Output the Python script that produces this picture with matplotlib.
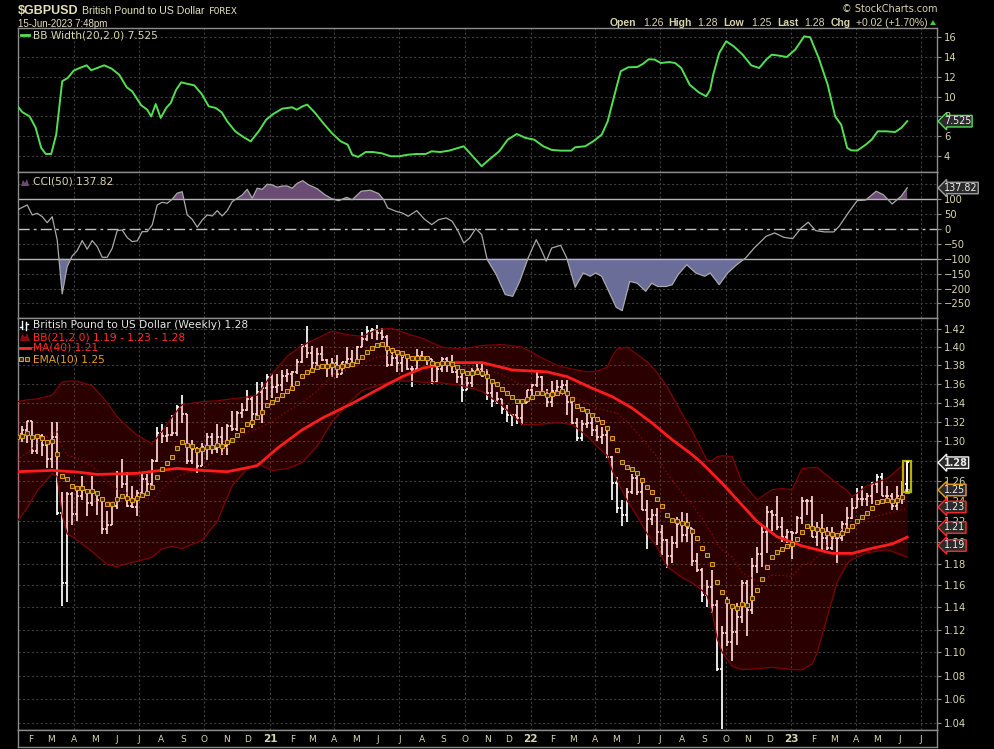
import numpy as np
import matplotlib
matplotlib.use("Agg")
import matplotlib.pyplot as plt
from matplotlib.ticker import FixedLocator, NullLocator, FixedFormatter
from matplotlib.patches import Rectangle, Polygon
from matplotlib.lines import Line2D

# ---------------- data ----------------
start_date = "2020-01-06"   # Monday of the first weekly bar

opn = [1.3115, 1.3062, 1.3072, 1.3110, 1.3204, 1.2900, 1.3047, 1.2961, 1.2821, 1.3046,
       1.2279, 1.1620, 1.2463, 1.2269, 1.2450, 1.2502, 1.2374, 1.2490, 1.2404, 1.2130,
       1.2166, 1.2350, 1.2665, 1.2562, 1.2351, 1.2335, 1.2479, 1.2617, 1.2565, 1.2796,
       1.3083, 1.3056, 1.3058, 1.3087, 1.3353, 1.3276, 1.2797, 1.2913, 1.2750, 1.2943,
       1.3043, 1.2915, 1.3043, 1.2947, 1.3153, 1.3128, 1.3288, 1.3324, 1.3440, 1.3282,
       1.3511, 1.3557, 1.3670, 1.3565, 1.3589, 1.3685, 1.3703, 1.3727, 1.3840, 1.4010,
       1.3933, 1.3830, 1.3925, 1.3864, 1.3789, 1.3826, 1.3706, 1.3840, 1.3871, 1.3826,
       1.3998, 1.4092, 1.4183, 1.4193, 1.4159, 1.4113, 1.3802, 1.3881, 1.3830, 1.3891,
       1.3759, 1.3764, 1.3903, 1.3866, 1.3867, 1.3620, 1.3759, 1.3866, 1.3839, 1.3734,
       1.3677, 1.3530, 1.3612, 1.3744, 1.3760, 1.3681, 1.3500, 1.3413, 1.3442, 1.3336,
       1.3271, 1.3268, 1.3237, 1.3398, 1.3532, 1.3590, 1.3680, 1.3496, 1.3404, 1.3528,
       1.3563, 1.3592, 1.3412, 1.3185, 1.3033, 1.3180, 1.3183, 1.3112, 1.3037, 1.3060,
       1.2835, 1.2573, 1.2334, 1.2262, 1.2490, 1.2622, 1.2489, 1.2313, 1.2221, 1.2266,
       1.2093, 1.2026, 1.1873, 1.1990, 1.2177, 1.2072, 1.2138, 1.1828, 1.1735, 1.1508,
       1.1583, 1.1418, 1.0856, 1.1170, 1.1090, 1.1175, 1.1310, 1.1616, 1.1378, 1.1776,
       1.1892, 1.2093, 1.2286, 1.2257, 1.2146, 1.2052, 1.2097, 1.2086, 1.2228, 1.2396,
       1.2395, 1.2053, 1.2117, 1.2040, 1.1945, 1.2038, 1.2039, 1.2178, 1.2232, 1.2332,
       1.2417, 1.2413, 1.2443, 1.2567, 1.2632, 1.2451, 1.2444, 1.2347, 1.2451, 1.2567]
high = [1.3214, 1.3118, 1.3153, 1.3207, 1.3211, 1.3070, 1.3070, 1.3005, 1.3200, 1.3200,
        1.2485, 1.2487, 1.2486, 1.2546, 1.2648, 1.2517, 1.2644, 1.2497, 1.2414, 1.2296,
        1.2375, 1.2700, 1.2813, 1.2688, 1.2543, 1.2503, 1.2669, 1.2669, 1.2814, 1.3144,
        1.3171, 1.3143, 1.3267, 1.3374, 1.3482, 1.3283, 1.3007, 1.2935, 1.2982, 1.3083,
        1.3082, 1.3177, 1.3140, 1.3177, 1.3313, 1.3309, 1.3399, 1.3540, 1.3470, 1.3623,
        1.3625, 1.3704, 1.3703, 1.3711, 1.3746, 1.3759, 1.3739, 1.3866, 1.4035, 1.4241,
        1.4017, 1.3990, 1.4017, 1.3873, 1.3887, 1.3919, 1.3841, 1.4008, 1.3969, 1.4009,
        1.4166, 1.4234, 1.4219, 1.4249, 1.4220, 1.4133, 1.3977, 1.3941, 1.3909, 1.3910,
        1.3790, 1.3984, 1.3958, 1.3894, 1.3875, 1.3787, 1.3892, 1.3891, 1.3913, 1.3750,
        1.3718, 1.3674, 1.3773, 1.3834, 1.3826, 1.3764, 1.3608, 1.3514, 1.3444, 1.3374,
        1.3283, 1.3374, 1.3441, 1.3540, 1.3600, 1.3749, 1.3686, 1.3546, 1.3628, 1.3644,
        1.3643, 1.3643, 1.3438, 1.3238, 1.3213, 1.3298, 1.3279, 1.3164, 1.3148, 1.3145,
        1.2843, 1.2638, 1.2406, 1.2525, 1.2666, 1.2666, 1.2599, 1.2406, 1.2324, 1.2332,
        1.2165, 1.2027, 1.2064, 1.2245, 1.2293, 1.2276, 1.2140, 1.1900, 1.1760, 1.1650,
        1.1738, 1.1467, 1.1235, 1.1496, 1.1380, 1.1438, 1.1645, 1.1645, 1.1855, 1.1955,
        1.2154, 1.2345, 1.2311, 1.2446, 1.2242, 1.2124, 1.2110, 1.2247, 1.2435, 1.2418,
        1.2448, 1.2194, 1.2270, 1.2147, 1.2144, 1.2064, 1.2204, 1.2343, 1.2424, 1.2525,
        1.2546, 1.2474, 1.2585, 1.2668, 1.2680, 1.2547, 1.2472, 1.2546, 1.2599, 1.2800]
low = [1.3012, 1.2953, 1.2994, 1.2975, 1.2872, 1.2870, 1.2849, 1.2726, 1.2725, 1.2261,
       1.1409, 1.1450, 1.2165, 1.2201, 1.2410, 1.2247, 1.2350, 1.2266, 1.2075, 1.2076,
       1.2163, 1.2320, 1.2528, 1.2335, 1.2325, 1.2252, 1.2462, 1.2480, 1.2522, 1.2786,
       1.2981, 1.2993, 1.3056, 1.3051, 1.3183, 1.2762, 1.2765, 1.2676, 1.2750, 1.2805,
       1.2863, 1.2875, 1.2855, 1.2854, 1.3105, 1.3108, 1.3237, 1.3313, 1.3134, 1.3226,
       1.3188, 1.3432, 1.3451, 1.3500, 1.3521, 1.3625, 1.3566, 1.3710, 1.3827, 1.3884,
       1.3777, 1.3778, 1.3848, 1.3671, 1.3671, 1.3669, 1.3706, 1.3802, 1.3800, 1.3823,
       1.3998, 1.4074, 1.4092, 1.4083, 1.4084, 1.3786, 1.3792, 1.3732, 1.3730, 1.3749,
       1.3572, 1.3760, 1.3854, 1.3800, 1.3602, 1.3620, 1.3727, 1.3727, 1.3719, 1.3609,
       1.3412, 1.3530, 1.3571, 1.3740, 1.3670, 1.3424, 1.3353, 1.3388, 1.3279, 1.3194,
       1.3160, 1.3174, 1.3161, 1.3397, 1.3431, 1.3566, 1.3490, 1.3358, 1.3358, 1.3487,
       1.3485, 1.3273, 1.3161, 1.3000, 1.3003, 1.3138, 1.3050, 1.3001, 1.2973, 1.2823,
       1.2411, 1.2276, 1.2155, 1.2198, 1.2470, 1.2459, 1.2311, 1.1934, 1.2161, 1.1976,
       1.1876, 1.1760, 1.1806, 1.1944, 1.2004, 1.2006, 1.1780, 1.1717, 1.1444, 1.1405,
       1.1351, 1.0839, 1.0350, 1.1057, 1.0924, 1.1062, 1.1255, 1.1147, 1.1335, 1.1710,
       1.1763, 1.1900, 1.2107, 1.2115, 1.2004, 1.1992, 1.1841, 1.2086, 1.2170, 1.2263,
       1.2047, 1.1962, 1.1915, 1.1922, 1.1924, 1.1803, 1.2010, 1.2133, 1.2219, 1.2332,
       1.2345, 1.2349, 1.2368, 1.2480, 1.2450, 1.2392, 1.2308, 1.2308, 1.2368, 1.2490]
close = [1.3062, 1.3072, 1.3110, 1.3204, 1.2900, 1.3047, 1.2961, 1.2821, 1.3046, 1.2279,
         1.1620, 1.2463, 1.2269, 1.2450, 1.2502, 1.2374, 1.2490, 1.2404, 1.2130, 1.2166,
         1.2350, 1.2665, 1.2562, 1.2351, 1.2335, 1.2479, 1.2617, 1.2565, 1.2796, 1.3083,
         1.3056, 1.3058, 1.3087, 1.3353, 1.3276, 1.2797, 1.2913, 1.2750, 1.2943, 1.3043,
         1.2915, 1.3043, 1.2947, 1.3153, 1.3128, 1.3288, 1.3324, 1.3440, 1.3282, 1.3511,
         1.3557, 1.3670, 1.3565, 1.3589, 1.3685, 1.3703, 1.3727, 1.3840, 1.4010, 1.3933,
         1.3830, 1.3925, 1.3864, 1.3789, 1.3826, 1.3706, 1.3840, 1.3871, 1.3826, 1.3998,
         1.4092, 1.4183, 1.4193, 1.4159, 1.4113, 1.3802, 1.3881, 1.3830, 1.3891, 1.3759,
         1.3764, 1.3903, 1.3866, 1.3867, 1.3620, 1.3759, 1.3866, 1.3839, 1.3734, 1.3677,
         1.3530, 1.3612, 1.3744, 1.3760, 1.3681, 1.3500, 1.3413, 1.3442, 1.3336, 1.3271,
         1.3268, 1.3237, 1.3398, 1.3532, 1.3590, 1.3680, 1.3496, 1.3404, 1.3528, 1.3563,
         1.3592, 1.3412, 1.3185, 1.3033, 1.3180, 1.3183, 1.3112, 1.3037, 1.3060, 1.2835,
         1.2573, 1.2334, 1.2262, 1.2490, 1.2622, 1.2489, 1.2313, 1.2221, 1.2266, 1.2093,
         1.2026, 1.1873, 1.1990, 1.2177, 1.2072, 1.2138, 1.1828, 1.1735, 1.1508, 1.1583,
         1.1418, 1.0856, 1.1170, 1.1090, 1.1175, 1.1310, 1.1616, 1.1378, 1.1776, 1.1892,
         1.2093, 1.2286, 1.2257, 1.2146, 1.2052, 1.2097, 1.2086, 1.2228, 1.2396, 1.2395,
         1.2053, 1.2117, 1.2040, 1.1945, 1.2038, 1.2039, 1.2178, 1.2232, 1.2332, 1.2417,
         1.2413, 1.2443, 1.2567, 1.2632, 1.2451, 1.2444, 1.2347, 1.2451, 1.2567, 1.2781]

ema_period = 10
ema_seed = 1.303

bb_wk = [1, 3, 5, 8, 9, 10, 11, 13, 16, 19, 21, 23, 25, 28, 30, 32, 34, 38, 41, 44,
         47, 49, 52, 55, 58, 61, 64, 67, 70, 73, 76, 79, 82, 86, 90, 94, 98, 102, 105, 109,
         112, 115, 117, 119, 120, 121, 123, 125, 127, 129, 131, 134, 136, 138, 139, 140, 141, 142, 144, 146,
         149, 152, 154, 156, 158, 160, 161, 163, 165, 167, 168, 171, 175, 179]
bb_upper = [1.341, 1.343, 1.344, 1.348, 1.355, 1.362, 1.363, 1.363, 1.358, 1.340,
            1.325, 1.315, 1.306, 1.297, 1.310, 1.325, 1.338, 1.341, 1.342, 1.344,
            1.346, 1.348, 1.371, 1.390, 1.402, 1.410, 1.418, 1.414, 1.412, 1.420,
            1.421, 1.415, 1.410, 1.400, 1.398, 1.402, 1.403, 1.400, 1.391, 1.380,
            1.376, 1.373, 1.374, 1.378, 1.390, 1.398, 1.400, 1.392, 1.384, 1.372,
            1.357, 1.328, 1.310, 1.290, 1.280, 1.280, 1.284, 1.285, 1.284, 1.258,
            1.241, 1.251, 1.252, 1.251, 1.272, 1.273, 1.273, 1.265, 1.257, 1.250,
            1.244, 1.255, 1.262, 1.279]
bb_lower = [1.220, 1.233, 1.250, 1.267, 1.264, 1.226, 1.208, 1.202, 1.191, 1.179,
            1.177, 1.180, 1.182, 1.186, 1.194, 1.196, 1.194, 1.202, 1.220, 1.255,
            1.272, 1.277, 1.270, 1.272, 1.278, 1.295, 1.320, 1.338, 1.353, 1.358,
            1.363, 1.363, 1.362, 1.361, 1.358, 1.352, 1.337, 1.317, 1.317, 1.319,
            1.317, 1.305, 1.294, 1.285, 1.270, 1.260, 1.240, 1.225, 1.208, 1.195,
            1.177, 1.167, 1.162, 1.155, 1.150, 1.135, 1.112, 1.100, 1.088, 1.085,
            1.086, 1.087, 1.086, 1.085, 1.085, 1.090, 1.100, 1.131, 1.163, 1.180,
            1.184, 1.190, 1.193, 1.186]

# MA(40)
ma_wk = [1, 8, 13, 17, 25, 33, 38, 43, 49, 53, 58, 62, 68, 73, 78, 82, 88, 94, 100, 107,
         111, 116, 120, 124, 128, 132, 136, 138, 142, 146, 149, 153, 158, 164, 168, 172, 176, 179]
ma40 = [1.2688, 1.2701, 1.2685, 1.2661, 1.2672, 1.2722, 1.2701, 1.2688, 1.2748, 1.2924,
        1.3115, 1.3237, 1.3392, 1.3537, 1.3678, 1.3770, 1.3831, 1.3831, 1.3751, 1.3730,
        1.3678, 1.3554, 1.3464, 1.3342, 1.3185, 1.3013, 1.2860, 1.2772, 1.2572, 1.2356,
        1.2197, 1.2052, 1.1965, 1.1895, 1.1895, 1.1943, 1.1984, 1.2048]

# BB Width(20,2.0)
bbw_wk = [1.2, 2.0, 3.5, 4.7, 5.8, 6.7, 7.8, 8.8, 10.0, 11.1, 12.3, 13.5, 14.9, 15.8, 17.0, 18.4, 19.9, 21.4, 22.9, 24.0,
          25.8, 27.0, 27.8, 28.7, 29.7, 30.8, 31.7, 32.8, 33.8, 35.2, 36.4, 37.9, 39.3, 40.7, 41.9, 43.0, 44.6, 46.3, 47.7, 49.3,
          50.8, 52.2, 54.0, 55.1, 56.0, 56.9, 58.1, 59.0, 60.6, 62.2, 63.9, 65.7, 67.1, 68.0, 69.2, 70.7, 72.1, 73.9, 75.7, 77.4,
          79.2, 80.9, 82.7, 83.9, 85.6, 87.4, 89.2, 90.3, 91.5, 92.7, 93.9, 95.6, 97.4, 99.1, 100.9, 102.7, 104.4, 106.2, 107.9, 109.7,
          111.8, 112.6, 114.6, 116.2, 117.9, 119.1, 120.3, 121.7, 123.2, 125.0, 126.1, 127.3, 128.5, 129.7, 131.4, 132.6, 133.8, 135.5, 137.3, 138.8,
          139.6, 140.2, 141.4, 142.8, 144.3, 146.1, 147.8, 149.4, 150.8, 151.9, 153.1, 154.9, 156.6, 158.4, 159.6, 161.3, 163.1, 164.6, 165.8, 167.0,
          167.8, 169.0, 170.7, 171.9, 173.1, 174.8, 176.6, 177.8, 179.0]
bbw = [8.96, 8.45, 8.0, 6.84, 4.82, 4.21, 4.21, 6.16, 11.56, 11.89, 12.63, 12.9, 13.17, 12.67, 12.9, 13.17, 12.83, 12.22, 10.95, 10.54,
       9.13, 8.69, 8.0, 9.26, 7.85, 8.86, 9.36, 10.71, 11.45, 11.28, 11.15, 10.27, 9.03, 8.86, 8.42, 7.51, 6.5, 5.9, 5.49, 6.5,
       7.68, 8.25, 8.79, 8.86, 8.93, 8.69, 9.03, 9.2, 8.35, 7.34, 6.33, 5.49, 5.15, 4.14, 3.91, 4.41, 4.41, 4.28, 3.98, 3.98,
       4.14, 4.21, 4.21, 4.48, 4.41, 4.55, 4.82, 4.99, 4.31, 3.64, 2.97, 3.74, 4.48, 5.66, 6.23, 5.83, 5.66, 4.99, 4.62, 4.55,
       4.55, 4.89, 4.99, 5.49, 6.16, 7.51, 9.87, 12.57, 12.97, 13.0, 13.3, 13.78, 13.75, 13.4, 13.5, 13.4, 12.9, 11.21, 10.44, 10.04,
       10.71, 12.22, 14.41, 15.6, 15.09, 14.24, 13.17, 12.9, 13.74, 14.24, 14.17, 14.01, 14.75, 16.1, 16.0, 13.91, 11.21, 8.0, 7.17, 4.82,
       4.58, 4.55, 5.15, 5.66, 6.5, 6.5, 6.43, 6.84, 7.525]

# CCI(50)
cci_wk = [1, 3, 4, 5, 6, 7, 8, 9, 10, 11, 12, 13, 14, 15, 16, 17, 18, 19, 20, 21,
          22, 23, 24, 25, 26, 27, 28, 29, 30, 31, 32, 33, 34, 35, 36, 37, 38, 39, 40, 41,
          42, 43, 44, 45, 46, 47, 48, 49, 50, 51, 52, 53, 54, 55, 56, 57,
          58.1, 59.2, 61.0, 62.5, 63.9, 65.3, 66.9, 68.0, 69.8, 71.6,
          73.3, 74.3, 75.1, 76.8, 78.0, 79.2, 80.9, 82.4, 83.9, 85.3,
          86.8, 88.0, 89.2, 90.3, 91.5, 92.7, 93.9, 95.0, 96.8, 98.6,
          100.1, 101.5, 103.2, 104.8, 105.8, 106.8, 107.9, 109.7, 110.9, 112.6,
          114.2, 115.6, 116.7, 117.9, 119.3, 120.8, 122.0, 123.5, 125.0, 126.7,
          127.9, 129.1, 130.8, 132.0, 133.2, 134.9, 136.7, 138.5, 139.6, 141.4,
          143.1, 144.9, 146.7, 148.4, 150.8, 152.5, 154.3, 156.1, 157.8, 159.2,
          160.7, 162.5, 164.3, 165.4, 167.2, 169.0, 170.7, 172.8, 174.2, 176.0,
          177.8, 179.0]
cci = [63.8, 80.5, 47, 52.6, 41.3, 21, 41, -37, -218, -126,
       -90.6, -72.8, -39, -68, -39, -59, -95, -95, -65, -5.7,
       -3.4, -29, -42.5, -40, -9, -9, 13.4, 80.5, 89.5, 86,
       99.7, 120, 125, 47, 32.5, 5.7, 30, 47, 43.6, 61.4,
       43.6, 61.4, 91.6, 103, 114, 133, 103, 136.6, 133, 150,
       147.7, 140, 144, 144, 136.6, 153,
       162, 148.7, 135, 115, 101.5, 94.8, 106, 98, 126.5, 130,
       118.5, 98, 70.5, 59, 53.7, 42.5, 61.4, 33.6, 14.4, 31.3,
       37, 25.7, -7.8, -47, -30, 1, -19, -103, -153, -220,
       -226, -176, -97, -36, -69.5, -108, -64, -55, -97, -195.6,
       -147.6, -158.7, -147.6, -158.7, -209, -262.8, -274, -176, -181.9, -209,
       -182, -193, -193, -187, -153, -120, -147.6, -158.7, -147.6, -187,
       -147.6, -120, -97, -64, -24.5, -13.4, -28, -32.5, 3.4, 22.5,
       -5.7, -10, -10, 9, 53.7, 95, 97, 126.5, 115, 83.9,
       110, 137.82]

price_ticks = [1.04, 1.06, 1.08, 1.10, 1.12, 1.14, 1.16, 1.18, 1.20, 1.22, 1.24, 1.26,
               1.28, 1.30, 1.32, 1.34, 1.36, 1.38, 1.40, 1.42]
price_tick_hidden = [1.28]          # covered by the "last" tag in the reference
bbw_ticks = [4, 6, 8, 10, 12, 14, 16]
cci_ticks = [-250, -200, -150, -100, -50, 0, 50, 100]
month_letters = ["J", "F", "M", "A", "M", "J", "J", "A", "S", "O", "N", "D"]

# ---------------- style / layout ----------------
W, H = 994, 749
BG = "black"
TAN = "#d9d5ab"
FRAME = "#8c8c8c"
GRID = "#3d3d3d"
GRID_LS = (0, (2, 2))

fig = plt.figure(figsize=(W / 100, H / 100), dpi=100, facecolor=BG)


def rect(x0, y0, x1, y1):
    return [x0 / W, 1 - y1 / H, (x1 - x0) / W, (y1 - y0) / H]


ax1 = fig.add_axes(rect(18, 28, 937, 172))
ax2 = fig.add_axes(rect(18, 172, 937, 318))
ax3 = fig.add_axes(rect(18, 318, 937, 730))
axx = fig.add_axes(rect(18, 730, 937, 747))

px0, pxw = 12.2, 5.0          # pixel x of week 0, pixels per week
xlim = ((18 - px0) / pxw, (937 - px0) / pxw)

# month positions from dates
d0 = np.datetime64(start_date)
months = np.arange(np.datetime64("2020-02"), np.datetime64("2023-08"), dtype="datetime64[M]")
mpos = (months.astype("datetime64[D]") - d0).astype(float) / 7.0
mnum = months.astype(int) % 12
myear = (1970 + months.astype(int) // 12) % 100
qpos = mpos[np.isin(mnum, [0, 3, 6, 9])]

for ax in (ax1, ax2, ax3, axx):
    ax.set_facecolor(BG)
    ax.set_xlim(*xlim)
    ax.set_xticks([])
    for s in ax.spines.values():
        s.set_color(FRAME)
        s.set_linewidth(1.0)
    ax.yaxis.tick_right()
    ax.tick_params(axis="y", which="both", colors=FRAME, labelcolor=TAN, labelsize=7.2,
                   length=3, width=0.8, direction="out", pad=2)
    for q in qpos:
        if ax is not axx:
            ax.axvline(q, color=GRID, lw=0.8, ls=GRID_LS, zorder=0.5)

# ---- panel 1: BB width ----
ax1.set_ylim(2.39, 16.94)
ax1.yaxis.set_major_locator(FixedLocator(bbw_ticks))
ax1.yaxis.set_minor_locator(NullLocator())
for t in bbw_ticks:
    ax1.axhline(t, color=GRID, lw=0.8, ls=GRID_LS, zorder=0.5)
ax1.plot(bbw_wk, bbw, color="#52e052", lw=1.4, zorder=3)

# ---- panel 2: CCI ----
ax2.set_ylim(-298.7, 191)
ax2.yaxis.set_major_locator(FixedLocator(cci_ticks))
ax2.yaxis.set_minor_locator(NullLocator())
for t in cci_ticks + [150]:
    if t not in (-100, 0, 100):
        ax2.axhline(t, color=GRID, lw=0.8, ls=GRID_LS, zorder=0.5)
cw = np.array(cci_wk, float)
cv = np.array(cci, float)
ax2.fill_between(cw, cv, 100, where=cv > 100, interpolate=True, color="#6b4c74", lw=0, zorder=2)
ax2.fill_between(cw, cv, -100, where=cv < -100, interpolate=True, color="#6a6d98", lw=0, zorder=2)
ax2.axhline(100, color="#b5b5b5", lw=1.0, zorder=2.5)
ax2.axhline(-100, color="#b5b5b5", lw=1.0, zorder=2.5)
ax2.axhline(0, color="#c4c4c4", lw=1.0, ls=(0, (8, 3, 2, 3)), zorder=2.5)
ax2.plot(cw, cv, color="#a9a9a9", lw=0.9, zorder=3)

# ---- panel 3: price ----
ax3.set_yscale("log")
ax3.set_ylim(1.03448, 1.43275)
ax3.yaxis.set_major_locator(FixedLocator(price_ticks))
ax3.yaxis.set_minor_locator(NullLocator())
ax3.yaxis.set_major_formatter(FixedFormatter(
    ["" if t in price_tick_hidden else f"{t:.2f}" for t in price_ticks]))
ax3.yaxis.set_minor_formatter(FixedFormatter([]))
for t in price_ticks:
    ax3.axhline(t, color=GRID, lw=0.8, ls=GRID_LS, zorder=0.5)

o = np.array(opn); hi = np.array(high); lo = np.array(low); c = np.array(close)
wk = np.arange(len(c))
bar_lw = 1.25
tick = 0.45
ax3.vlines(wk, lo, hi, color="white", lw=bar_lw, zorder=2)
ax3.hlines(o, wk - tick, wk, color="white", lw=bar_lw, zorder=2)
ax3.hlines(c, wk, wk + tick, color="white", lw=bar_lw, zorder=2)

bw = np.array(bb_wk, float)
bu = np.array(bb_upper)
bl = np.array(bb_lower)
ax3.fill_between(bw, bl, bu, color="#ff0000", alpha=0.17, lw=0, zorder=3)
ax3.plot(bw, bu, color="#7e0000", lw=0.9, zorder=3.2)
ax3.plot(bw, bl, color="#7e0000", lw=0.9, zorder=3.2)
ax3.plot(bw, (bu + bl) / 2, color="#9a0000", lw=0.9, ls=(0, (1, 2)), zorder=3.2)

ax3.plot(ma_wk, ma40, color="#ff1c1c", lw=2.0, zorder=4)

ema = np.empty(len(c))
ema[0] = ema_seed
k = 2.0 / (ema_period + 1)
for t in range(1, len(c)):
    ema[t] = ema[t - 1] + k * (c[t] - ema[t - 1])
ax3.plot(wk, ema, ls="none", marker="s", ms=2.3, mfc="#4a3000", mec="#e5a21f", mew=0.7, zorder=5)

# highlight last bar
li = len(c) - 1
ax3.add_patch(Rectangle((li - 0.75, lo[li]), 1.5, hi[li] - lo[li], fill=False,
                        ec="#b3b300", lw=1.6, zorder=6))
ax3.vlines([li], [lo[li]], [hi[li]], color="white", lw=bar_lw, zorder=6.5)
ax3.hlines([o[li]], li - tick, li, color="white", lw=bar_lw, zorder=6.5)
ax3.hlines([c[li]], li, li + tick, color="white", lw=bar_lw, zorder=6.5)

# ---- x axis strip ----
axx.set_ylim(0, 1)
axx.set_yticks([])
for p, m, y in zip(mpos, mnum, myear):
    if m == 0:
        axx.text(p, 0.45, f"{y:02d}", color=TAN, fontsize=7.5, fontweight="bold",
                 ha="center", va="center")
    else:
        axx.text(p, 0.45, month_letters[m], color=TAN, fontsize=6.5, ha="center", va="center")

# ---------------- fig-level helpers ----------------

def ftext(x, y, s, **kw):
    kw.setdefault("va", "center")
    fig.text(x / W, 1 - y / H, s, **kw)


def fline(xs, ys, **kw):
    fig.add_artist(Line2D([x / W for x in xs], [1 - y / H for y in ys], transform=fig.transFigure, **kw))


def fpoly(pts, **kw):
    fig.add_artist(Polygon([(x / W, 1 - y / H) for x, y in pts], closed=True, transform=fig.transFigure, **kw))


# header
ftext(18, 11, r"\$GBPUSD", color="#e4e0b8", fontsize=9, fontweight="bold", family="Liberation Sans")
ftext(82, 11.5, "British Pound to US Dollar", color="#e4e0b8", fontsize=7.6, family="Liberation Sans")
ftext(209, 12, "FOREX", color="#e4e0b8", fontsize=6.8, family="DejaVu Sans Mono")
ftext(18, 24, "15-Jun-2023 7:48pm", color="#e4e0b8", fontsize=7, family="Liberation Sans")
ftext(938, 9, "© StockCharts.com", color=TAN, fontsize=7, ha="right", family="DejaVu Sans")
hdr = [(610, "Open", True), (643, "1.26", False), (668, "High", True), (697, "1.28", False),
       (723, "Low", True), (751, "1.25", False), (777, "Last", True), (804, "1.28", False),
       (831, "Chg", True), (856, "+0.02 (+1.70%)", False)]
for x, s, b in hdr:
    ftext(x, 22.5, s, color=TAN, fontsize=7.5, fontweight="bold" if b else "normal", family="Liberation Sans")
fpoly([(930, 25), (936, 25), (933, 20)], color="#3ec83e", lw=0)

# panel legends
LEG = dict(fontsize=7.7, family="DejaVu Sans")
fline([21, 29], [35, 35], color="#52e052", lw=2)
ftext(33, 35, "BB Width(20,2.0) 7.525", color=TAN, **LEG)

fpoly([(21, 186), (23, 180), (25, 183), (27, 179), (29, 186)], color="#6b4c74", lw=0)
ftext(33, 182, "CCI(50) 137.82", color=TAN, **LEG)

fline([22, 22], [321, 329], color="white", lw=1)
fline([20, 22], [327, 327], color="white", lw=1)
fline([26, 26], [322, 330], color="white", lw=1)
fline([26, 28], [324, 324], color="white", lw=1)
ftext(33, 325.5, "British Pound to US Dollar (Weekly) 1.28", color="#e6e6e6", **LEG)
fpoly([(20, 341), (22, 334), (25, 337), (27, 333), (30, 341)], color="#8a0c0c", lw=0)
ftext(33, 337, "BB(21,2.0) 1.19 - 1.23 - 1.28", color="#ff2a2a", **LEG)
fline([20, 30], [348, 348], color="#ff2a2a", lw=2)
ftext(33, 348, "MA(40) 1.21", color="#ff2a2a", **LEG)
fline([21, 27], [359, 359], color="none", ls="none", marker="s", ms=2.4, mfc="#4a3000", mec="#e5a21f", mew=0.7)
ftext(33, 359, "EMA(10) 1.25", color="#e5a21f", **LEG)

# value tags on the right axis


def tag(y, s, ec, bold=False):
    ftext(944, y, s, color="#eeeeee", fontsize=6.9, fontweight="bold" if bold else "normal",
          ha="left", family="DejaVu Sans", zorder=20,
          bbox=dict(boxstyle="larrow,pad=0.08", fc="#2b2b2b", ec=ec, lw=1.0))


tag(121.2, "7.525", "#52e052")
tag(188.0, "137.82", "#a0a0a0")
tag(462.7, "1.28", "#f2f2f2", bold=True)
tag(490.0, "1.25", "#e5a21f")
tag(507.0, "1.23", "#ff2a2a")
tag(527.5, "1.21", "#ff2a2a")
tag(545.5, "1.19", "#ff2a2a")

fig.savefig("out.png", dpi=100, facecolor=BG)
